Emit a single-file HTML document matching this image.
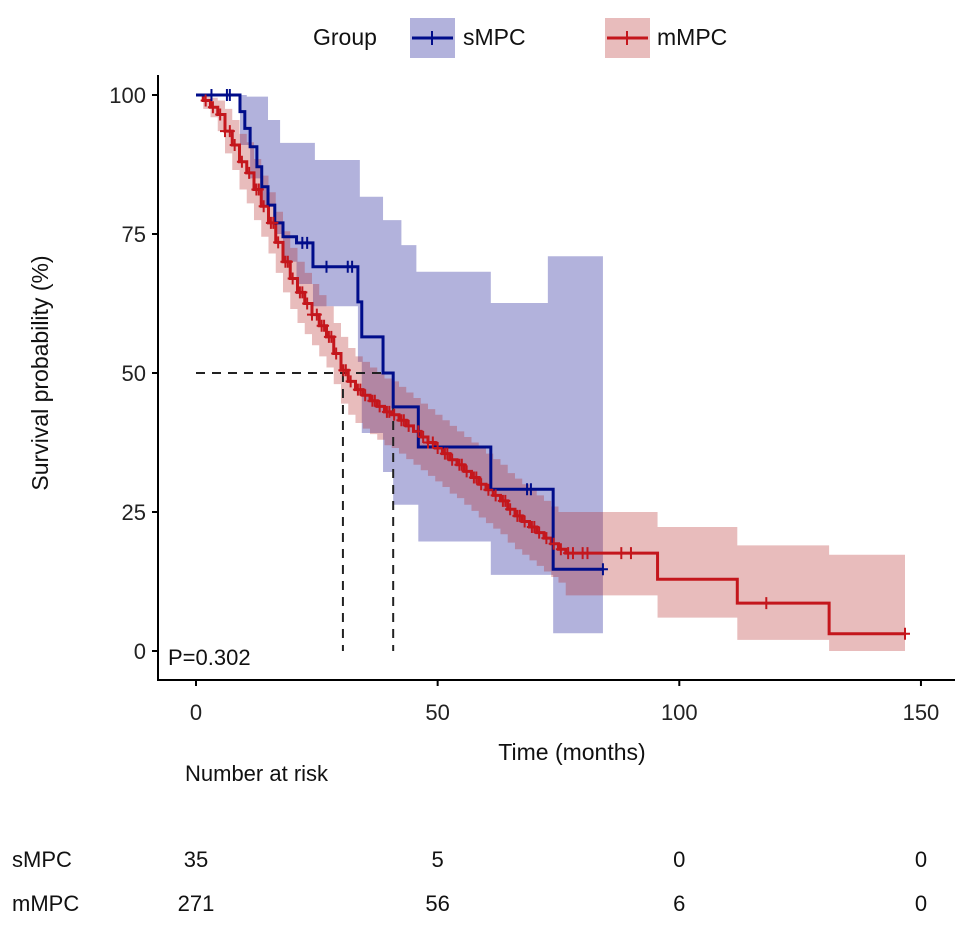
<!DOCTYPE html>
<html><head><meta charset="utf-8">
<style>
body{margin:0;background:#fff;}
svg{display:block;font-family:"Liberation Sans",Arial,sans-serif;}
</style></head>
<body>
<svg id="chart" width="969" height="926" viewBox="0 0 969 926">
<g id="bands"></g><g id="lines"></g><g id="marks"></g>
</svg>
<script>
// sMPC
const sTimes=[0,9.1,10.1,11.2,12.6,13.6,14.9,16.3,18,20.8,24.2,33.5,34.3,38.7,40.8,46,61,73.9];
const sSurv=[100,97,94,90.7,87.1,83.5,80.2,77,74.5,73.4,69.1,62.8,56.5,50,43.9,36.7,29.1,14.7];
const sEnd=84.2;
const sUpT=[0,10.5,14.9,17.4,24.6,33.9,38.7,42.5,45.6,61,72.8];
const sUp=[100,99.7,95.5,91.4,88.3,81.7,77.5,73,68.2,62.6,71];
const sLoT=[0,9.1,11.2,13.6,16.3,18,20.8,24.2,33.5,34.3,38.7,40.8,46,61,73.9];
const sLo=[100,91,85,80,75,70,66,62,52,39.2,32.2,26.3,19.7,13.7,3.2];
const sCens=[3.2,6.4,7,22,23,27,31.4,32.3,68.5,69.3,84.2];
// mMPC
const mTimes=[0,1.5,3,4.5,6,7.5,9,10.5,12,13.5,15,16.5,18,19.5,21,22.5,24,25.5,27,28.5,30,31.5,33,34.5,36,37.5,39,40.5,42,43.5,45,46.5,48,49.5,51,52.5,54,55.5,57,58.5,60,61.5,63,64.5,66,67.5,69,70.5,72,73.5,75,76.5,95.5,112,131];
const mSurv=[100,99,97.8,96.5,93.5,91,88,86,83,80,77,73.5,70,67,64.5,62.5,60.5,58.5,56.5,53.5,50.5,48.5,47,46,45,44,43,42.5,41.5,40.5,39.5,38.5,37.5,36.5,35.5,34.4,33.5,32.3,31.2,30,29,28,27,25.5,24.3,23.3,22.3,21.3,20.3,19.3,18.3,17.6,12.9,8.6,3.1];
const mUp=[100,100,99.5,99,97.5,95.5,93,91.5,88.5,85.5,82.5,79,75.5,72.5,70,68,66,64,62,59,56.5,54.5,53,52,51,50,49,48.5,47.5,46.5,45.5,44.5,43.5,42.5,41.5,40.5,39.5,38.5,37.5,36.5,35.5,34.5,33.5,32,31,30,29,28,27,26,25,25,22.3,19,17.3];
const mLo=[100,97.5,96,93.5,89.5,86.5,83,80.5,77.5,74.5,71.5,68,64.5,61.5,59,57,55,53,51,48,44.5,42.5,41,40,39,38,37,36.5,35.5,34.5,33.5,32.5,31.5,30.5,29.5,28.3,27.5,26.3,25.2,24,23,22,21,19.5,18.3,17.3,16.3,15.3,14.3,13.3,12.3,10,6,2,0];
const mEnd=146.7;
const mCens=[2,3.5,5,6,7,8,9.5,11,12.5,13,14,15.5,16,17,18.5,19,20,21.5,22,23,24,25,26,26.5,27.5,28,29,30.5,31,32,33.5,34,35,36.5,37,38,39.5,40,41,42.5,43,44,46,47,48,49,50,51.5,52,53,54.5,55,56,57.5,58,59,60.5,62,63.5,64,65,66.5,67,68,69.5,70,71,72.5,74,75.5,77,78,80,81,88,90,118,146.7];
const xTicks=[0,50,100,150];
const yTicks=[0,25,50,75,100];
const riskTimes=[0,50,100,150];
const sRisk=[35,5,0,0];
const mRisk=[271,56,6,0];

const X=t=>196+t*4.833, Y=s=>651-s*5.56;
const NS="http://www.w3.org/2000/svg";
const svg=document.getElementById('chart');
function mk(tag,attrs,parent,text){const e=document.createElementNS(NS,tag);for(const k in attrs)e.setAttribute(k,attrs[k]);if(text!==undefined)e.textContent=text;(parent||svg).appendChild(e);return e;}
function stepPath(ts,vs,end){let d=`M${X(ts[0])},${Y(vs[0])}`;for(let i=1;i<ts.length;i++){d+=`H${X(ts[i])}V${Y(vs[i])}`;}d+=`H${X(end)}`;return d;}
function stepVal(ts,vs,t){let v=vs[0];for(let i=0;i<ts.length;i++){if(ts[i]<=t)v=vs[i];}return v;}
function bandPath(uT,u,lT,l,end){let d=`M${X(uT[0])},${Y(u[0])}`;for(let i=1;i<uT.length;i++)d+=`H${X(uT[i])}V${Y(u[i])}`;d+=`H${X(end)}V${Y(l[l.length-1])}`;for(let i=lT.length-1;i>=1;i--)d+=`H${X(lT[i])}V${Y(l[i-1])}`;d+=`H${X(lT[0])}Z`;return d;}
const bands=document.getElementById('bands'),lines=document.getElementById('lines'),marks=document.getElementById('marks');
let b1=mk('path',{d:bandPath(sUpT,sUp,sLoT,sLo,sEnd),fill:'rgba(0,0,139,0.3)'},bands);


let b2=mk('path',{d:bandPath(mTimes,mUp,mTimes,mLo,mEnd),fill:'rgba(178,34,34,0.3)'},bands);


let dh=mk('path',{d:`M${X(0)},${Y(50)}H${X(40.8)}M${X(30.4)},${Y(50)}V${Y(0)}M${X(40.8)},${Y(50)}V${Y(0)}`,stroke:'#222',fill:'none','stroke-width':2,'stroke-dasharray':'9,7'},lines);


let l2=mk('path',{d:stepPath(mTimes,mSurv,mEnd),stroke:'#c4161c',fill:'none','stroke-width':3},lines);


let l1=mk('path',{d:stepPath(sTimes,sSurv,sEnd),stroke:'#000d8a',fill:'none','stroke-width':3},lines);


function cens(t,v,col,name){const x=X(t),y=Y(v);const p=mk('path',{d:`M${x-5},${y}H${x+5}M${x},${y-6}V${y+6}`,stroke:col,'stroke-width':2},marks);}
mCens.forEach(t=>cens(t,stepVal(mTimes,mSurv,t),'#c4161c','mmpc-censor'));
sCens.forEach(t=>cens(t,stepVal(sTimes,sSurv,t),'#000d8a','smpc-censor'));
let ax=mk('path',{d:'M158,75V680H955',stroke:'#000',fill:'none','stroke-width':2});


yTicks.forEach(v=>{mk('line',{x1:152,x2:158,y1:Y(v),y2:Y(v),stroke:'#000','stroke-width':2});let t=mk('text',{x:146,y:Y(v)+8,'text-anchor':'end','font-size':22,fill:'#222'},svg,v);});
xTicks.forEach(v=>{mk('line',{x1:X(v),x2:X(v),y1:680,y2:686,stroke:'#000','stroke-width':2});let t=mk('text',{x:X(v),y:720,'text-anchor':'middle','font-size':22,fill:'#222'},svg,v);});
riskTimes.forEach((t,i)=>{let a=mk('text',{x:X(t),y:867,'text-anchor':'middle','font-size':22,fill:'#111'},svg,sRisk[i]);
let b=mk('text',{x:X(t),y:911,'text-anchor':'middle','font-size':22,fill:'#111'},svg,mRisk[i]);});
</script>
<svg style="position:absolute;left:0;top:0" width="969" height="926">
<text x="168" y="665" font-size="22" fill="#111" font-family="Liberation Sans, sans-serif">P=0.302</text>
<text x="572" y="760" font-size="23" text-anchor="middle" fill="#111" font-family="Liberation Sans, sans-serif">Time (months)</text>
<text transform="translate(48,373) rotate(-90)" font-size="23" text-anchor="middle" fill="#111" font-family="Liberation Sans, sans-serif">Survival probability (%)</text>
<text x="313" y="45" font-size="23" fill="#111" font-family="Liberation Sans, sans-serif">Group</text>
<g>
<rect x="410" y="18" width="45" height="40" fill="rgba(0,0,139,0.3)"/>
<line x1="412" y1="38" x2="453" y2="38" stroke="#000d8a" stroke-width="3"/>
<line x1="432" y1="31" x2="432" y2="45" stroke="#000d8a" stroke-width="2"/>
<text x="463" y="45" font-size="23" fill="#111" font-family="Liberation Sans, sans-serif">sMPC</text>
</g>
<g>
<rect x="605" y="18" width="45" height="40" fill="rgba(178,34,34,0.3)"/>
<line x1="607" y1="38" x2="648" y2="38" stroke="#c4161c" stroke-width="3"/>
<line x1="627" y1="31" x2="627" y2="45" stroke="#c4161c" stroke-width="2"/>
<text x="657" y="45" font-size="23" fill="#111" font-family="Liberation Sans, sans-serif">mMPC</text>
</g>
<text x="185" y="781" font-size="22" fill="#111" font-family="Liberation Sans, sans-serif">Number at risk</text>
<text x="12" y="867" font-size="22" fill="#111" font-family="Liberation Sans, sans-serif">sMPC</text>
<text x="12" y="911" font-size="22" fill="#111" font-family="Liberation Sans, sans-serif">mMPC</text>
</svg>
</body></html>
